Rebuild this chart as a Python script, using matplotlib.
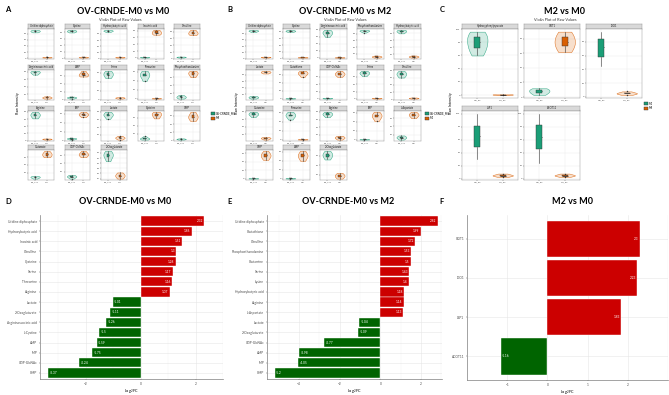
import numpy as np
import matplotlib
matplotlib.use('Agg')
import matplotlib.pyplot as plt
from matplotlib.patches import Patch
from matplotlib.colors import to_rgba

plt.rcParams['font.family'] = ['Lato', 'DejaVu Sans']

W, H = 669, 395
GREEN = '#1b9e77'
ORANGE = '#d95f02'
RED = '#cc0000'
DGREEN = '#006400'

# ---- panel A: OV-CRNDE-M0 vs M0 (raw intensity per metabolite) ----
a_names = ['Uridine diphosphate', 'Cystine', 'Hydroxybutyric acid', 'Inosinic acid', 'Citrulline',
           'Argininosuccinic acid', 'AMP', 'Serine', 'Threonine', 'Phosphoethanolamine',
           'Arginine', 'IMP', 'Lactate', 'Cysteine', 'GMP',
           'Glutamate', 'UDP-GlcNAc', '2-Oxoglutarate']
a_grp1 = [[84, 88, 90, 92, 87], [80, 84, 86, 83, 88], [86, 90, 93, 89, 91], [1, 2, 1.5, 2.5, 2],
          [4, 6, 5, 7, 6], [72, 78, 82, 76, 80], [3, 6, 5, 8, 6], [48, 56, 60, 64, 54],
          [40, 50, 56, 62, 52], [6, 10, 12, 15, 9], [62, 68, 74, 80, 72], [2, 4, 5, 6, 4],
          [62, 70, 75, 80, 72], [6, 8, 10, 14, 9], [2, 3, 4, 5, 3.5], [5, 8, 10, 12, 9],
          [4, 8, 10, 13, 9], [44, 52, 58, 64, 56]]
a_grp2 = [[2, 3, 4, 3, 2.5], [2, 4, 3, 5, 3], [3, 5, 4, 6, 4], [68, 74, 78, 72, 82],
          [70, 76, 80, 74, 85], [8, 12, 10, 14, 11], [58, 63, 66, 61, 72], [3, 5, 4, 6, 5],
          [0.5, 1, 0.8, 1.2, 1], [60, 66, 72, 76, 70], [3, 5, 4, 6, 5], [52, 57, 60, 64, 58],
          [8, 12, 14, 18, 13], [58, 64, 70, 74, 68], [48, 55, 62, 70, 58], [60, 64, 70, 76, 68],
          [55, 60, 64, 70, 62], [10, 14, 18, 22, 16]]
a_groups = ['OV-CRNDE_M0', 'M0']
a_ticks = ['CR_M0', 'M0']

# ---- panel B: OV-CRNDE-M0 vs M2 ----
b_names = ['Uridine diphosphate', 'Cystine', 'Argininosuccinic acid', 'Phosphoethanolamine', 'Hydroxybutyric acid',
           'Lactate', 'Glutathione', 'UDP-GlcNAc', 'Serine', 'Citrulline',
           'Glutamine', 'Threonine', 'Arginine', 'IMP', 'L-Aspartate',
           'GMP', 'AMP', '2-Oxoglutarate']
b_grp1 = [[85, 88, 90, 92, 89], [80, 83, 86, 84, 82], [60, 68, 74, 80, 72], [84, 88, 90, 92, 89],
          [80, 84, 88, 90, 86], [6, 10, 12, 14, 9], [0.5, 1, 0.8, 1.2, 1], [1, 2, 1.5, 2.5, 2],
          [62, 68, 72, 76, 70], [60, 66, 72, 78, 70], [66, 72, 76, 80, 74], [45, 52, 56, 62, 55],
          [66, 72, 76, 80, 74], [0.5, 1, 0.8, 1.2, 1], [8, 12, 15, 18, 13], [0.5, 1, 0.8, 1.2, 1],
          [0.5, 1, 0.8, 1.2, 1], [52, 58, 64, 70, 62]]
b_grp2 = [[3, 5, 6, 4, 5], [2, 3, 4, 3, 2], [0.5, 1, 0.8, 1.2, 0.9], [8, 11, 14, 12, 10],
          [10, 13, 16, 14, 12], [84, 88, 90, 92, 87], [55, 62, 66, 70, 64], [60, 66, 70, 76, 68],
          [1, 2, 1.5, 2.5, 2], [3, 4, 5, 6, 4.5], [5, 8, 10, 12, 9], [0.5, 1, 0.8, 1.2, 1],
          [8, 12, 15, 18, 13], [42, 50, 55, 62, 54], [60, 66, 70, 75, 68], [45, 52, 58, 66, 56],
          [40, 48, 54, 62, 52], [12, 16, 20, 24, 18]]
b_groups = ['OV-CRNDE_M0', 'M2']
b_ticks = ['CR_M0', 'M2']

# ---- panel C: M2 vs M0 ----
c_names = ['Hydroxyphenylpyruvate', 'GOT1', 'IDO1', 'LSP1', 'ACOT11']
c_grp1 = [[60, 70, 76, 84, 90, 96], [3, 6, 8, 10, 12], [45, 55, 68, 78, 86, 95],
          [30, 45, 60, 72, 85, 100], [25, 42, 58, 70, 86, 100]]
c_grp2 = [[0.5, 1, 0.8, 1.2, 1], [62, 70, 76, 82, 90], [3, 5, 6, 8, 5],
          [3, 5, 6, 8, 5], [3, 5, 6, 8, 5]]
c_violin1 = [True, True, False, False, False]   # no violin drawn for M2 in the last three
c_groups = ['M2', 'M0']
c_ticks = ['M2_PS', 'M0_PS']

# ---- panels D-F: Log2FC ----
d_names = ['Uridine diphosphate', 'Hydroxybutyric acid', 'Inosinic acid', 'Citrulline', 'Cysteine',
           'Serine', 'Threonine', 'Arginine', 'Lactate', '2-Oxoglutarate', 'Argininosuccinic acid',
           'L-Cystine', 'AMP', 'IMP', 'UDP-GlcNAc', 'GMP']
d_vals = [2.32, 1.86, 1.51, 1.30, 1.28, 1.17, 1.16, 1.07, -1.01, -1.11, -1.26, -1.5, -1.59, -1.75, -2.24, -3.37]

e_names = ['Uridine diphosphate', 'Glutathione', 'Citrulline', 'Phosphoethanolamine', 'Glutamine',
           'Serine', 'Lysine', 'Hydroxybutyric acid', 'Arginine', 'L-Aspartate', 'Lactate',
           '2-Oxoglutarate', 'UDP-GlcNAc', 'AMP', 'IMP', 'GMP']
e_vals = [2.82, 1.99, 1.72, 1.53, 1.5, 1.43, 1.40, 1.18, 1.14, 1.13, -1.04, -1.09, -2.77, -3.98, -4.05, -5.2]

f_names = ['GOT1', 'IDO1', 'LSP1', 'ACOT11']
f_vals = [2.3, 2.23, 1.83, -1.16]


def box(x, y, w, h):
    return [x / W, 1 - (y + h) / H, w / W, h / H]


def facet(fig, x, y, w, h, name, v1, v2, ticks, bw=0.2, show1=True):
    strip = fig.add_axes(box(x, y, w, 4.5))
    strip.set_facecolor('#d9d9d9')
    strip.set_xticks([]); strip.set_yticks([])
    for s in strip.spines.values():
        s.set_color('#8c8c8c'); s.set_linewidth(0.3)
    strip.text(0.5, 0.45, name, fontsize=1.9, ha='center', va='center', color='#1a1a1a')

    ax = fig.add_axes(box(x, y + 4.5, w, h - 4.5))
    if show1:
        vp = ax.violinplot([v1, v2], [1, 2], widths=0.8, showextrema=False)
        cols = [GREEN, ORANGE]
    else:
        vp = ax.violinplot([v2], [2], widths=0.8, showextrema=False)
        cols = [ORANGE]
    for body, c in zip(vp['bodies'], cols):
        body.set_alpha(None)
        body.set_facecolor(to_rgba(c, 0.2))
        body.set_edgecolor(to_rgba(c, 0.9))
        body.set_linewidth(0.35)
        body.set_zorder(2)
    bp = ax.boxplot([v1, v2], positions=[1, 2], widths=bw, patch_artist=True,
                    medianprops=dict(color='#1a1a1a', lw=0.5),
                    whiskerprops=dict(color='#333333', lw=0.4),
                    capprops=dict(lw=0),
                    flierprops=dict(marker='o', markersize=0.8, markeredgewidth=0.2,
                                    markerfacecolor='#333333', markeredgecolor='#333333'),
                    boxprops=dict(lw=0.3, edgecolor='#333333'))
    for patch, c in zip(bp['boxes'], [GREEN, ORANGE]):
        patch.set_facecolor(c)
        patch.set_zorder(3)
    ax.set_xlim(0.4, 2.6)
    ax.set_xticks([1, 2])
    ax.set_xticklabels(ticks)
    ax.tick_params(labelsize=1.7, length=0.8, width=0.3, pad=0.4, colors='#4d4d4d')
    ax.grid(True, color='#ebebeb', lw=0.3)
    ax.set_axisbelow(True)
    for s in ax.spines.values():
        s.set_color('#8c8c8c'); s.set_linewidth(0.3)
    return ax


def bar_panel(ax, names, vals, xlim, xticks):
    n = len(vals)
    y = np.arange(n)[::-1]
    colors = [RED if v > 0 else DGREEN for v in vals]
    ax.barh(y, vals, height=0.92, color=colors, edgecolor='white', linewidth=0.3, zorder=2)
    off = (xlim[1] - xlim[0]) * 0.008
    for yi, v in zip(y, vals):
        if v > 0:
            ax.text(v - off, yi, f'{v:g}', color='white', fontsize=2.3, ha='right', va='center', zorder=3)
        else:
            ax.text(v + off, yi, f'{v:g}', color='white', fontsize=2.3, ha='left', va='center', zorder=3)
    ax.set_yticks(y)
    ax.set_yticklabels(names)
    ax.set_ylim(-0.6, n - 0.4)
    ax.set_xlim(*xlim)
    ax.set_xticks(xticks)
    ax.set_xticks(np.arange(xticks[0] - 1, xticks[-1] + 2, 1), minor=True)
    ax.grid(True, which='major', color='#e6e6e6', lw=0.4)
    ax.grid(True, which='minor', axis='x', color='#f2f2f2', lw=0.3)
    ax.set_axisbelow(True)
    ax.tick_params(labelsize=2.3, length=1, width=0.3, pad=1, colors='#4d4d4d')
    ax.tick_params(which='minor', length=0)
    for s in ['top', 'right']:
        ax.spines[s].set_visible(False)
    for s in ['left', 'bottom']:
        ax.spines[s].set_color('#7f7f7f'); ax.spines[s].set_linewidth(0.5)
    ax.set_xlabel('Log$_2$FC', fontsize=2.8, labelpad=1)


fig = plt.figure(figsize=(W / 100, H / 100), dpi=100)

# titles and panel letters
for x, y, t in [(123, 12, 'OV-CRNDE-M0 vs M0'), (345, 12, 'OV-CRNDE-M0 vs M2'), (565, 12, 'M2 vs M0'),
                (125, 202, 'OV-CRNDE-M0 vs M0'), (348, 202, 'OV-CRNDE-M0 vs M2'), (573, 202, 'M2 vs M0')]:
    fig.text(x / W, 1 - y / H, t, fontsize=6.5, fontweight='bold', ha='center', va='center')
for x, y, t in [(8, 10, 'A'), (230, 10, 'B'), (442, 10, 'C'), (8, 201, 'D'), (230, 201, 'E'), (442, 201, 'F')]:
    fig.text(x / W, 1 - y / H, t, fontsize=5.5, fontweight='bold', ha='center', va='center')
for x in [120, 345, 555]:
    fig.text(x / W, 1 - 20 / H, 'Violin Plot of Raw Values', fontsize=2.8, ha='center', va='center', color='#333333')
for x in [18, 237, 451]:
    fig.text(x / W, 1 - 103 / H, 'Raw Intensity', fontsize=2.6, rotation=90, ha='center', va='center')

rows = [24, 65, 106, 145]
for i, name in enumerate(a_names):
    r, c = divmod(i, 5)
    facet(fig, 28 + c * 36.5, rows[r], 26, 35, name, a_grp1[i], a_grp2[i], a_ticks)
for i, name in enumerate(b_names):
    r, c = divmod(i, 5)
    facet(fig, 246 + c * 37, rows[r], 27, 35, name, b_grp1[i], b_grp2[i], b_ticks)
c_pos = [(462, 24), (524, 24), (586, 24), (462, 106), (524, 106)]
for i, name in enumerate(c_names):
    facet(fig, c_pos[i][0], c_pos[i][1], 56, 74, name, c_grp1[i], c_grp2[i], c_ticks,
          bw=0.25, show1=c_violin1[i])

for lx, ly, grp in [(210, 116, a_groups), (424, 116, b_groups), (643, 106, c_groups)]:
    handles = [Patch(facecolor=GREEN, edgecolor='#333333', lw=0.3, label=grp[0]),
               Patch(facecolor=ORANGE, edgecolor='#333333', lw=0.3, label=grp[1])]
    fig.legend(handles=handles, loc='center left', bbox_to_anchor=(lx / W, 1 - ly / H),
               fontsize=2.0, frameon=False, handlelength=1.2, handleheight=1.2,
               handletextpad=0.4, labelspacing=0.3, borderpad=0)

axd = fig.add_axes(box(40, 215, 183, 164))
bar_panel(axd, d_names, d_vals, (-3.66, 2.6), [-2, 0, 2])
axe = fig.add_axes(box(267, 215, 175, 164))
bar_panel(axe, e_names, e_vals, (-5.57, 3.03), [-4, -2, 0, 2])
axf = fig.add_axes(box(467, 215, 201, 165))
bar_panel(axf, f_names, f_vals, (-1.33, 2.49), [-1, 0, 1, 2])

fig.savefig('out.png', dpi=100, facecolor='white')
